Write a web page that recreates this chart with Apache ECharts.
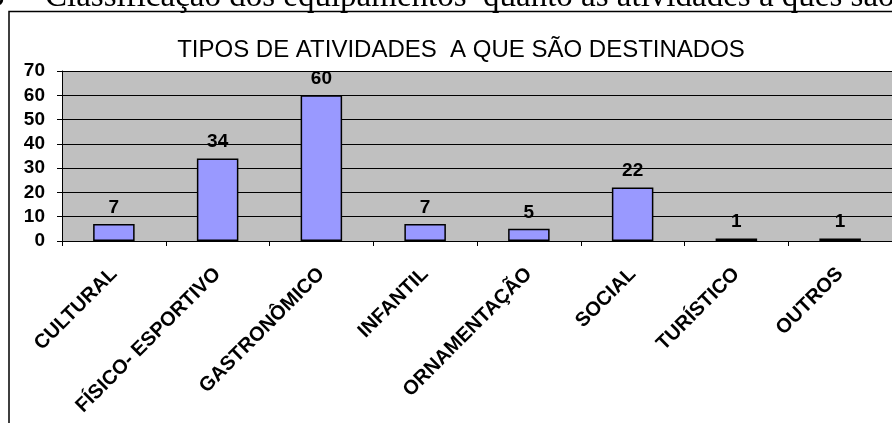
<!DOCTYPE html>
<html>
<head>
    <meta charset="utf-8" />
    <title></title>
    <script type="text/javascript" src="https://cdn.jsdelivr.net/npm/echarts@6/dist/echarts.min.js"></script>
    <style>
        html, body { margin: 0; padding: 0; background: #fff; }
        #con1 { width: 892px; height: 423px; }
    </style>
</head>
<body>
    <div id="con1"></div>
    <script type="text/javascript">
        // categorias e valores
        var categorias = ["CULTURAL", "FÍSICO- ESPORTIVO", "GASTRONÔMICO", "INFANTIL", "ORNAMENTAÇÃO", "SOCIAL", "TURÍSTICO", "OUTROS"];
        var valores = [7, 34, 60, 7, 5, 22, 1, 1];
        var yTicks = [0, 10, 20, 30, 40, 50, 60, 70];

        var myChart1 = echarts.init(document.getElementById("con1"), null, { renderer: 'canvas' });
        var font = "'Liberation Sans', Arial, sans-serif";
        var serif = "'Liberation Serif', 'Times New Roman', serif";

        var option1 = {
            backgroundColor: '#ffffff',
            animation: false,
            title: {
                text: 'TIPOS DE ATIVIDADES  A QUE SÃO DESTINADOS',
                left: 456,
                textAlign: 'center',
                top: 33,
                textStyle: { fontFamily: font, fontSize: 24, fontWeight: 'normal', color: '#000' }
            },
            graphic: [
                {
                    // legenda do documento, cortada no topo
                    type: 'text',
                    x: -12,
                    y: 14,
                    style: {
                        text: '3 –',
                        font: '33px ' + serif,
                        fill: '#000',
                        verticalAlign: 'bottom'
                    }
                },
                {
                    type: 'text',
                    x: 45,
                    y: 14,
                    style: {
                        text: 'Classificação dos equipamentos  quanto às atividades a ques são destinados',
                        font: '33px ' + serif,
                        fill: '#000',
                        verticalAlign: 'bottom'
                    }
                },
                {
                    type: 'rect',
                    shape: { x: 9, y: 11.5, width: 950, height: 450 },
                    style: { fill: 'none', stroke: '#000', lineWidth: 1.5 }
                }
            ],
            grid: {
                left: 62,
                top: 71,
                width: 842,
                height: 170,
                show: true,
                backgroundColor: '#C0C0C0',
                borderWidth: 0
            },
            xAxis: {
                type: 'category',
                data: categorias,
                axisLine: { lineStyle: { color: '#000', width: 1 } },
                axisTick: { show: true, length: 5, lineStyle: { color: '#000' } },
                axisLabel: {
                    rotate: 45,
                    interval: 0,
                    margin: 30,
                    fontFamily: font,
                    fontSize: 20,
                    fontWeight: 'bold',
                    color: '#000'
                }
            },
            yAxis: {
                type: 'value',
                min: yTicks[0],
                max: yTicks[yTicks.length - 1],
                interval: 10,
                axisLine: { show: true, lineStyle: { color: '#000', width: 1 } },
                axisTick: { show: true, length: 5, lineStyle: { color: '#000' } },
                splitLine: { lineStyle: { color: '#000', width: 1 } },
                axisLabel: {
                    margin: 17,
                    fontFamily: font,
                    fontSize: 19,
                    fontWeight: 'bold',
                    color: '#000'
                }
            },
            series: [{
                type: 'bar',
                data: valores,
                barWidth: '40%',
                itemStyle: {
                    color: '#9999FF',
                    borderColor: '#000',
                    borderWidth: 1.5
                },
                label: {
                    show: true,
                    position: 'top',
                    distance: 7,
                    fontFamily: font,
                    fontSize: 19,
                    fontWeight: 'bold',
                    color: '#000'
                }
            }]
        };
        option1 && myChart1.setOption(option1);
    </script>
</body>
</html>
